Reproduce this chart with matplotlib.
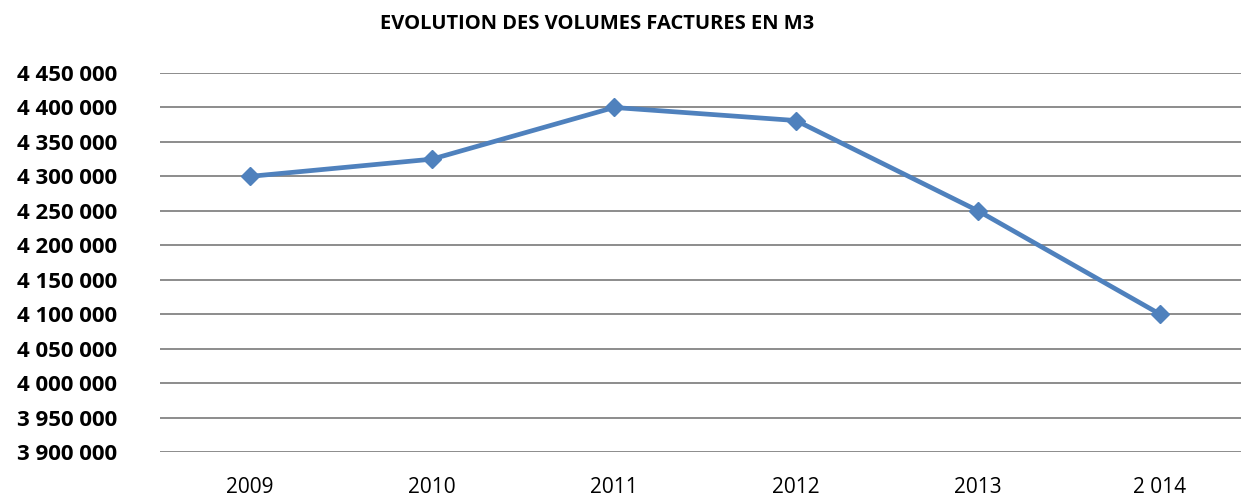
import matplotlib
matplotlib.use("Agg")
import matplotlib.pyplot as plt
from matplotlib.ticker import FuncFormatter

# --------------------------
# Data
# --------------------------
years = ["2009", "2010", "2011", "2012", "2013", "2 014"]
volumes = [4300000, 4325000, 4400000, 4381000, 4250000, 4100000]
y_ticks = list(range(3900000, 4450001, 50000))

LINE_COLOR = "#4F81BD"
GRID_COLOR = "#8C8C8C"

plt.rcParams["font.family"] = ["Open Sans", "DejaVu Sans"]


def fmt_thousands(v, pos):
    return f"{int(v):,}".replace(",", " ")


fig = plt.figure(figsize=(12.41, 4.97), dpi=100)
W, H = 1241, 497
ax = fig.add_axes([160 / W, (H - 452) / H, (W - 160) / W, (452 - 73) / H])

x = list(range(len(years)))
ax.plot(x, volumes, color=LINE_COLOR, linewidth=3.4, marker="D",
        markersize=9.5, markerfacecolor=LINE_COLOR, markeredgecolor=LINE_COLOR,
        zorder=3)

ax.set_xlim(-0.495, 5.445)
ax.set_ylim(y_ticks[0], y_ticks[-1])
ax.set_yticks(y_ticks)
ax.yaxis.set_major_formatter(FuncFormatter(fmt_thousands))
ax.set_xticks(x)
ax.set_xticklabels(years)

ax.grid(axis="y", color=GRID_COLOR, linewidth=1.4)
ax.set_axisbelow(True)
for s in ax.spines.values():
    s.set_visible(False)

ax.tick_params(axis="y", length=0, pad=31, labelsize=16)
ax.tick_params(axis="x", length=0, pad=18, labelsize=15)
for lbl in ax.get_yticklabels():
    lbl.set_fontweight("bold")

fig.text(597 / W, 1 - 24 / H, "EVOLUTION DES VOLUMES FACTURES EN M3",
         ha="center", va="center", fontsize=14.5, fontweight="bold")

fig.savefig("out.png", dpi=100)
